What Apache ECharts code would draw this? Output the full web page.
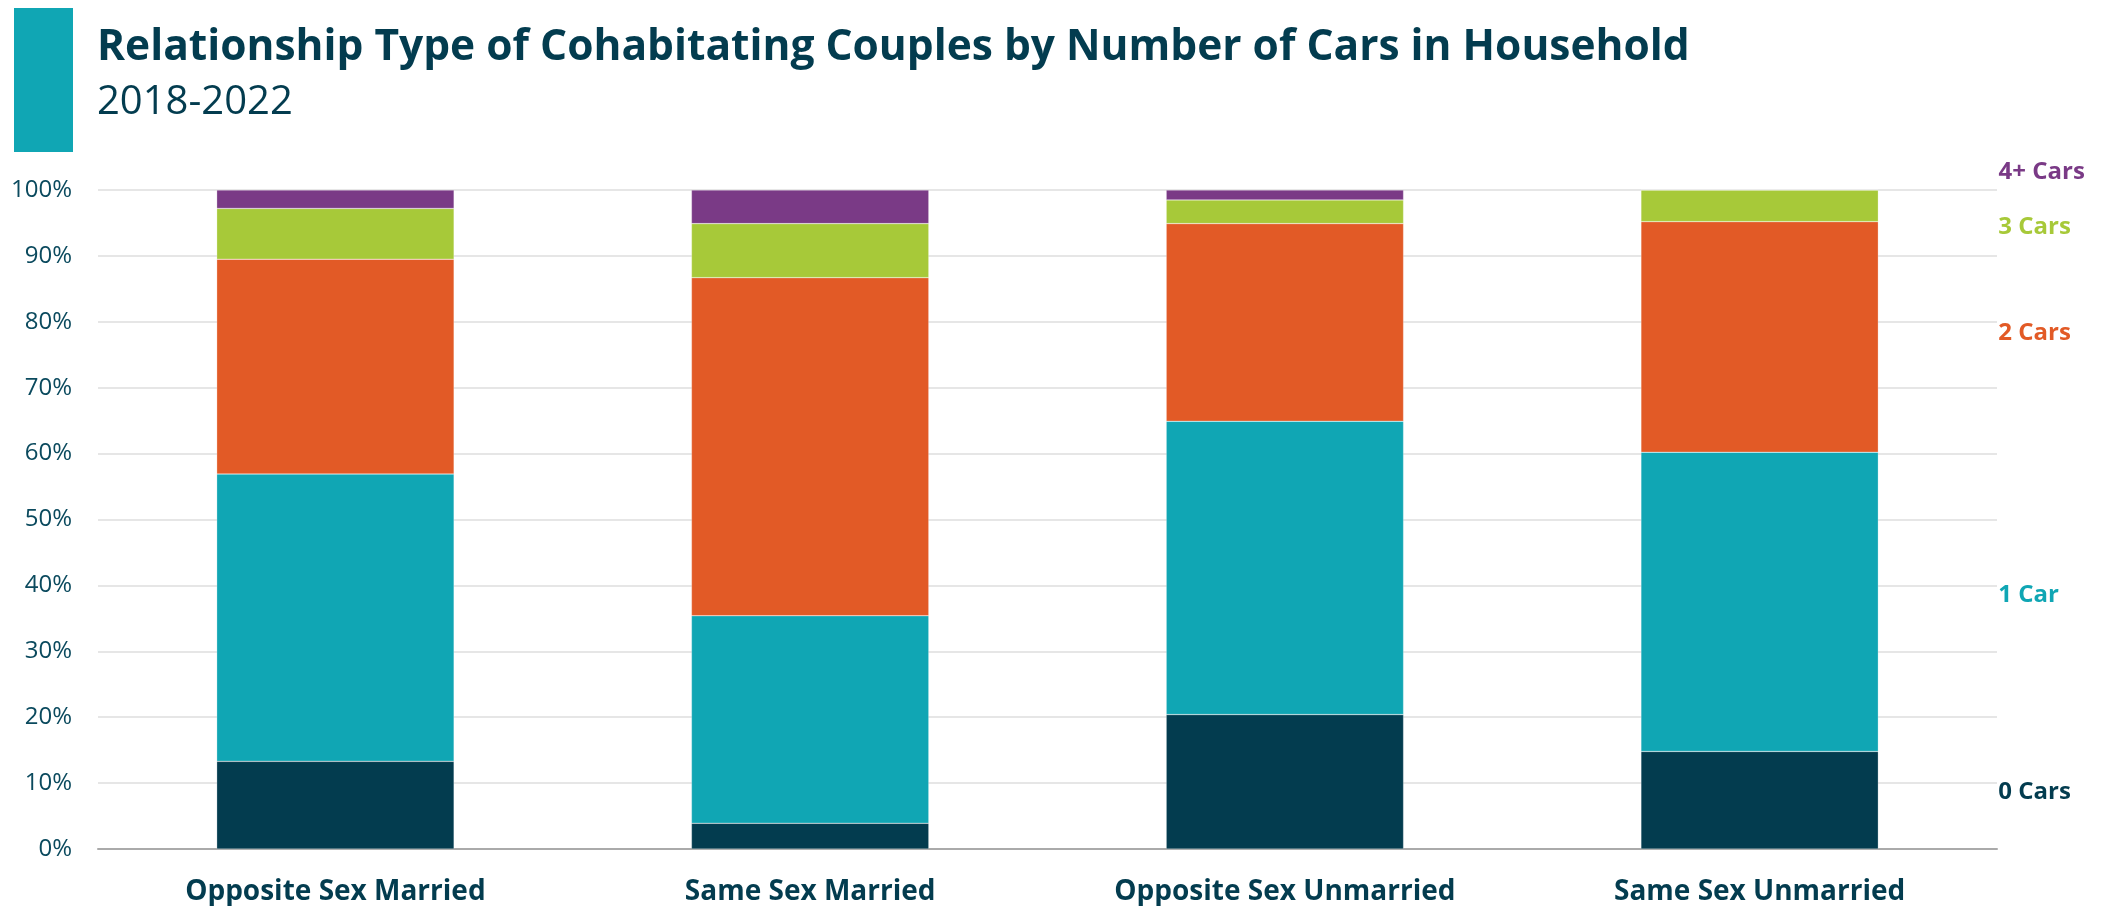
<html lang="en">
<head>
    <meta charset="UTF-8">
    <title>cars by couple type</title>
    <script src="https://cdn.jsdelivr.net/npm/echarts@6/dist/echarts.min.js"></script>
    <style type="text/css">
        html, body {
            margin: 0;
            padding: 0;
            background: #fff;
        }
        #main {
            width: 2108px;
            height: 906px;
        }
    </style>
</head>
<body>
<div id="main"></div>
<script>
    // categories on x axis
    var categories = ['Opposite Sex Married', 'Same Sex Married', 'Opposite Sex Unmarried', 'Same Sex Unmarried'];
    // shares in percent
    var cars0 = [13.3, 3.9, 20.4, 14.8];
    var cars1 = [43.6, 31.5, 44.5, 45.4];
    var cars2 = [32.6, 51.3, 30.0, 35.0];
    var cars3 = [7.7, 8.2, 3.6, 4.8];
    var cars4 = [2.8, 5.1, 1.5, 0];
    var seriesNames = ['0 Cars', '1 Car', '2 Cars', '3 Cars', '4+ Cars'];
    var yTicks = [0, 10, 20, 30, 40, 50, 60, 70, 80, 90, 100];

    var colors = ['#033c4f', '#10a6b4', '#e25a26', '#a7c939', '#7a3a86'];
    // nudges for the labels at the right end
    var labelOffsets = [[0, -8], [0, -7], [0, -4], [0, 21], [0, -18]];

    var myChart = echarts.init(document.getElementById('main'));

    var values = [cars0, cars1, cars2, cars3, cars4];
    var series = values.map(function (vals, s) {
        return {
            name: seriesNames[s],
            type: 'bar',
            stack: 'total',
            barWidth: '50%',
            itemStyle: {
                color: colors[s],
                borderColor: 'rgba(255,255,255,0.5)',
                borderWidth: 0.5
            },
            data: vals.map(function (v, i) {
                if (i !== vals.length - 1) return v;
                return {
                    value: v,
                    label: {
                        show: true,
                        position: 'right',
                        distance: 120,
                        offset: labelOffsets[s],
                        formatter: seriesNames[s],
                        color: colors[s],
                        fontFamily: 'Open Sans',
                        fontWeight: 'bold',
                        fontSize: 24
                    }
                };
            })
        };
    });

    var option = {
        animation: false,
        textStyle: {fontFamily: 'Open Sans'},
        title: {
            text: 'Relationship Type of Cohabitating Couples by Number of Cars in Household',
            subtext: '2018-2022',
            left: 92,
            top: 21,
            itemGap: 14,
            textStyle: {
                fontFamily: 'Open Sans',
                fontWeight: 'bold',
                fontSize: 42.5,
                color: '#033c4f'
            },
            subtextStyle: {
                fontFamily: 'Open Sans',
                fontWeight: 'normal',
                fontSize: 40,
                color: '#033c4f'
            }
        },
        graphic: [{
            type: 'rect',
            left: 14,
            top: 8,
            shape: {width: 59, height: 144},
            style: {fill: '#10a6b4'}
        }],
        grid: {
            left: 98,
            right: 111,
            top: 190,
            bottom: 57,
            containLabel: false
        },
        xAxis: {
            type: 'category',
            data: categories,
            axisTick: {show: false},
            axisLine: {lineStyle: {color: '#aaaaaa', width: 2}},
            axisLabel: {
                margin: 29,
                fontFamily: 'Open Sans',
                fontWeight: 'bold',
                fontSize: 28,
                color: '#033c4f'
            }
        },
        yAxis: {
            type: 'value',
            min: yTicks[0],
            max: yTicks[yTicks.length - 1],
            interval: 10,
            axisLine: {show: false},
            axisTick: {show: false},
            splitLine: {lineStyle: {color: '#e6e6e6', width: 2}},
            axisLabel: {
                margin: 26,
                fontFamily: 'Open Sans',
                fontSize: 24,
                color: '#0b4a5e',
                formatter: '{value}%'
            }
        },
        series: series
    };
    myChart.setOption(option);
</script>
</body>
</html>
